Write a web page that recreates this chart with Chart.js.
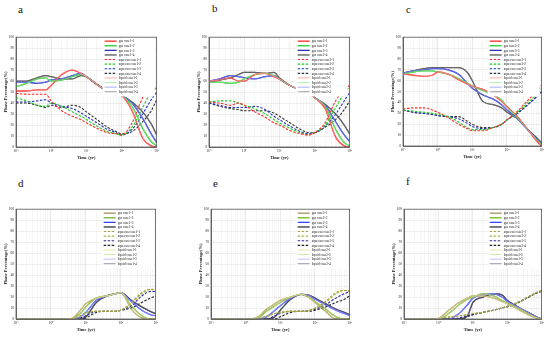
<!DOCTYPE html>
<html>
<head>
<meta charset="utf-8">
<script src="https://cdn.jsdelivr.net/npm/chart.js@4.4.1/dist/chart.umd.min.js"></script>
<style>
body{margin:0;background:#fff;width:550px;height:337px;position:relative;overflow:hidden;font-family:"Liberation Serif",serif}
canvas{position:absolute}
.lbl{position:absolute;font-size:11px;line-height:11px;color:#111}
</style>
</head>
<body>
<div class="lbl" style="left:18px;top:4px">a</div>
<div class="lbl" style="left:212px;top:3px">b</div>
<div class="lbl" style="left:406px;top:4px">c</div>
<div class="lbl" style="left:18px;top:178px">d</div>
<div class="lbl" style="left:213px;top:178px">e</div>
<div class="lbl" style="left:406px;top:176px">f</div>
<canvas id="pa"></canvas>
<canvas id="pb"></canvas>
<canvas id="pc"></canvas>
<canvas id="pd"></canvas>
<canvas id="pe"></canvas>
<canvas id="pf"></canvas>
<script>
// time steps (yr) shared by every curve
const times=[0.1,0.2,0.4,0.7,1,2,4,7,10,20,40,70,100,200,400,700,1000];

// panel a (case1)
const aGas1=[51,51,52,52,56,66,70,67,64,57,51,49,47,33,8,1,0];
const aGas2=[55,58,62,63,60,61,64,66,64,57,51,49,47,37,17,5,1];
const aGas3=[59,59,58,59,61,62,65,67,64,57,51,49,47,40,26,12,4];
const aGas4=[60,60,63,65,64,62,62,65,64,57,51,49,47,41,32,21,11];
const aAq1=[49,48,48,48,42,33,28,25,22,17,13,12,11,22,45,55,53];
const aAq2=[45,42,38,37,40,37,32,28,25,19,14,12,11,18,36,50,54];
const aAq3=[41,41,42,43,40,37,35,31,28,22,16,13,11,16,30,43,50];
const aAq4=[40,40,38,36,38,36,38,36,32,25,18,14,12,14,23,33,43];

// panel b (case2)
const bGas1=[60,61,63,60,60,66,67,64,62,56,52,49,45,35,9,1,0];
const bGas2=[59,59,58,59,62,66,67,65,62,56,52,49,45,37,16,4,1];
const bGas3=[60,62,65,64,63,62,64,65,62,56,52,49,45,38,23,11,5];
const bGas4=[59,61,63,66,68,68,67,68,63,56,52,49,45,39,30,20,12];
const bAq1=[41,40,38,40,38,32,27,22,20,15,12,11,13,22,42,53,56];
const bAq2=[41,42,42,40,38,35,30,25,22,17,13,11,13,20,36,49,55];
const bAq3=[40,38,36,36,36,37,34,28,25,19,14,12,13,19,30,42,50];
const bAq4=[40,37,35,34,33,33,33,31,28,22,16,13,13,18,25,34,42];

// panel c (case3)
const cGas1=[66,65,64,65,68,66,61,57,55,52,47,41,36,27,15,5,0];
const cGas2=[66,68,69,69,68,66,62,58,55,51,47,42,36,26,15,6,1];
const cGas3=[67,69,70,71,71,70,66,58,53,47,43,38,33,25,15,7,2];
const cGas4=[67,69,71,72,72,72,72,68,60,41,38,35,31,25,15,8,3];
const cAq1=[34,35,35,33,31,26,20,16,14,14,17,20,24,32,42,50,56];
const cAq2=[33,32,31,30,29,27,22,17,15,15,17,20,24,31,40,47,53];
const cAq3=[33,31,30,29,28,27,25,21,18,16,17,20,24,30,38,45,50];
const cAq4=[33,31,30,29,28,27,27,23,20,17,17,20,24,30,38,45,50];

// panel d (case1)
const dGas1=[0,0,0,0,0,0,0.5,8,14,19,21,23,24,9,1,0,0];
const dGas2=[0,0,0,0,0,0,0,5,11,19,21,23,24,12,3,0,0];
const dGas3=[0,0,0,0,0,0,0,2,6,17,21,23,24,16,8,4,3];
const dGas4=[0,0,0,0,0,0,0,0,2,15,21,23,24,17,11,7,5];
const dAq1=[0,0,0,0,0,0,0,3,6,7,7,7,8,15,24,27,26];
const dAq2=[0,0,0,0,0,0,0,2,5,7,7,7,8,14,23,27,27];
const dAq3=[0,0,0,0,0,0,0,1,3,7,7,7,8,12,21,25,25];
const dAq4=[0,0,0,0,0,0,0,0,1,6,7,7,8,10,15,19,21];

// panel e (case2)
const eGas1=[0,0,0,0,0,1,9,14,17,20,22.5,19,15,7,0,0,0];
const eGas2=[0,0,0,0,0,0,7,12,15,20,22.5,19.5,16,9,2,0,0];
const eGas3=[0,0,0,0,0,0,2,8,12,19,22.5,21,18,13,8,5,3];
const eGas4=[0,0,0,0,0,0,0,2,8,18,22.5,21.5,19,14,9,6,4];
const eAq1=[0,0,0,0,0,0,3,5,6,7,7,8,10,16,24,26,25];
const eAq2=[0,0,0,0,0,0,2,5,6,7,7,8,10,15,23,26,26];
const eAq3=[0,0,0,0,0,0,0,3,5,7,7,8,9,13,19,23,25];
const eAq4=[0,0,0,0,0,0,0,0,2,6,7,7,8,11,15,18,21];

// panel f (case3)
const fGas1=[0,0,0,0,0.5,8,15,19,21,21,19,16,14,9,4,1,0];
const fGas2=[0,0,0,0,0,5,13,18,20,23,21,17,14.5,10,5,1,0];
const fGas3=[0,0,0,0,0,0,5,13,19,22,23,20,16,11,6,2,0];
const fGas4=[0,0,0,0,0,0,0,3,15,20,23,22,17,11,6,2,0];
const fAq1=[0,0,0,0,0.5,2,3,4,5,6,8,10,11.5,15,20,24,26];
const fAq2=[0,0,0,0,0,1.5,3,4,5,6,8,10,11.5,15,20,24,26];
const fAq3=[0,0,0,0,0,0,1,3,4,6,8,10,11.5,15,20,24,26];
const fAq4=[0,0,0,0,0,0,0,2,4,6,8,10,11,14.5,19.5,23.5,25];

const xTickLabels={0.1:"10⁻¹",1:"10⁰",10:"10¹",100:"10²",1000:"10³"};

const topColors={
  gas:["#ff2a2a","#22cc22","#2233bb","#555555"],
  aq:["#ff2a2a","#22cc22","#2233bb","#333333"],
  liq:["#ff8a8a","#8fe88f","#8a8aff","#707070"]
};
const botColors={
  gas:["#a88f5a","#72b030","#3344ff","#333333"],
  aq:["#b0a040","#98c040","#2a2aa0","#222222"],
  liq:["#e2e07a","#c4dc8c","#a4a4ff","#64648a"]
};

const panels=[
  {id:"pa",L:16,T:36,R:158,B:147,n:1,gas:[aGas1,aGas2,aGas3,aGas4],aq:[aAq1,aAq2,aAq3,aAq4],col:topColors},
  {id:"pb",L:209,T:36,R:351,B:147,n:2,gas:[bGas1,bGas2,bGas3,bGas4],aq:[bAq1,bAq2,bAq3,bAq4],col:topColors},
  {id:"pc",L:403,T:36,R:543,B:146,n:3,gas:[cGas1,cGas2,cGas3,cGas4],aq:[cAq1,cAq2,cAq3,cAq4],col:topColors},
  {id:"pd",L:16,T:208,R:157,B:319,n:1,gas:[dGas1,dGas2,dGas3,dGas4],aq:[dAq1,dAq2,dAq3,dAq4],col:botColors},
  {id:"pe",L:211,T:208,R:351,B:319,n:2,gas:[eGas1,eGas2,eGas3,eGas4],aq:[eAq1,eAq2,eAq3,eAq4],col:botColors},
  {id:"pf",L:404,T:208,R:543,B:319,n:3,gas:[fGas1,fGas2,fGas3,fGas4],aq:[fAq1,fAq2,fAq3,fAq4],col:botColors}
];

const FONT='"Liberation Serif", serif';

// box round the axes + legend inside the top right corner
const boxLegend={
  id:"boxLegend",
  afterDraw(chart){
    const {ctx,chartArea:a}=chart;
    ctx.save();
    ctx.strokeStyle="#444";ctx.lineWidth=0.7;
    ctx.strokeRect(a.left,a.top,a.right-a.left,a.bottom-a.top);
    const ds=chart.data.datasets;
    const step=4.6, x0=a.right-54, y0=a.top+1;
    ctx.fillStyle="#fff";
    ctx.fillRect(x0,y0,52,ds.length*step+3);
    ctx.font="3.4px "+FONT;ctx.textBaseline="middle";
    ds.forEach((d,i)=>{
      const y=y0+3+i*step;
      ctx.strokeStyle=d.borderColor;ctx.lineWidth=d.borderWidth;
      ctx.setLineDash(d.borderDash||[]);
      ctx.beginPath();ctx.moveTo(x0+2,y);ctx.lineTo(x0+14,y);ctx.stroke();
      ctx.setLineDash([]);
      ctx.fillStyle="#222";ctx.fillText(d.label,x0+16,y+0.3);
    });
    ctx.restore();
  }
};

const xTicks=[];
for(let e=-1;e<3;e++) for(let m=1;m<10;m++) xTicks.push(m*10**e);
xTicks.push(1000);

function isDecade(v){const l=Math.log10(v);return Math.abs(l-Math.round(l))<1e-6;}

function makePanel(p){
  const yW=14,padT=3,padR=3,xH=14;
  const c=document.getElementById(p.id);
  c.width=(p.R-p.L)+yW+padR;
  c.height=(p.B-p.T)+padT+xH;
  c.style.left=(p.L-yW)+"px";
  c.style.top=(p.T-padT)+"px";

  const pts=arr=>times.map((t,i)=>({x:t,y:arr[i]}));
  const ds=[];
  p.gas.forEach((arr,i)=>ds.push({label:"gas case"+p.n+"-"+(i+1),data:pts(arr),
    borderColor:p.col.gas[i],borderWidth:1.3,order:3}));
  p.aq.forEach((arr,i)=>ds.push({label:"aqueous case"+p.n+"-"+(i+1),data:pts(arr),
    borderColor:p.col.aq[i],borderWidth:1.1,borderDash:[2.5,1.5],order:2}));
  p.gas.forEach((arr,i)=>ds.push({label:"liquid case"+p.n+"-"+(i+1),data:pts(arr),
    borderColor:p.col.liq[i],borderWidth:0.7,order:1}));

  new Chart(c,{
    type:"line",
    data:{datasets:ds},
    options:{
      responsive:false,
      animation:false,
      elements:{point:{radius:0},line:{cubicInterpolationMode:"monotone",fill:false}},
      layout:{padding:{top:padT,right:padR,left:0,bottom:0}},
      plugins:{legend:{display:false},tooltip:{enabled:false}},
      scales:{
        x:{
          type:"logarithmic",min:0.1,max:1000,
          afterBuildTicks:s=>{s.ticks=xTicks.map(v=>({value:v}));},
          afterFit:s=>{s.height=xH;},
          ticks:{autoSkip:false,maxRotation:0,padding:2,color:"#222",
            font:{size:3.6,family:FONT},
            callback:v=>isDecade(v)?(xTickLabels[v]||""):""},
          grid:{drawTicks:false,lineWidth:0.5,
            color:ctx=>isDecade(ctx.tick.value)?"#d4d4d4":"#ececec"},
          border:{color:"#444",width:0.7},
          title:{display:true,text:"Time (yr)",color:"#222",
            font:{size:4.5,family:FONT,weight:"bold"},padding:{top:0,bottom:0}}
        },
        y:{
          min:0,max:100,
          afterFit:s=>{s.width=yW;},
          ticks:{stepSize:10,padding:2,color:"#222",font:{size:3.6,family:FONT}},
          grid:{drawTicks:false,lineWidth:0.5,color:"#dedede"},
          border:{color:"#444",width:0.7},
          title:{display:true,text:"Phase Percentage(%)",color:"#222",
            font:{size:4.5,family:FONT,weight:"bold"},padding:{top:1.3,bottom:0}}
        }
      }
    },
    plugins:[boxLegend]
  });
}

panels.forEach(makePanel);
</script>
</body>
</html>
